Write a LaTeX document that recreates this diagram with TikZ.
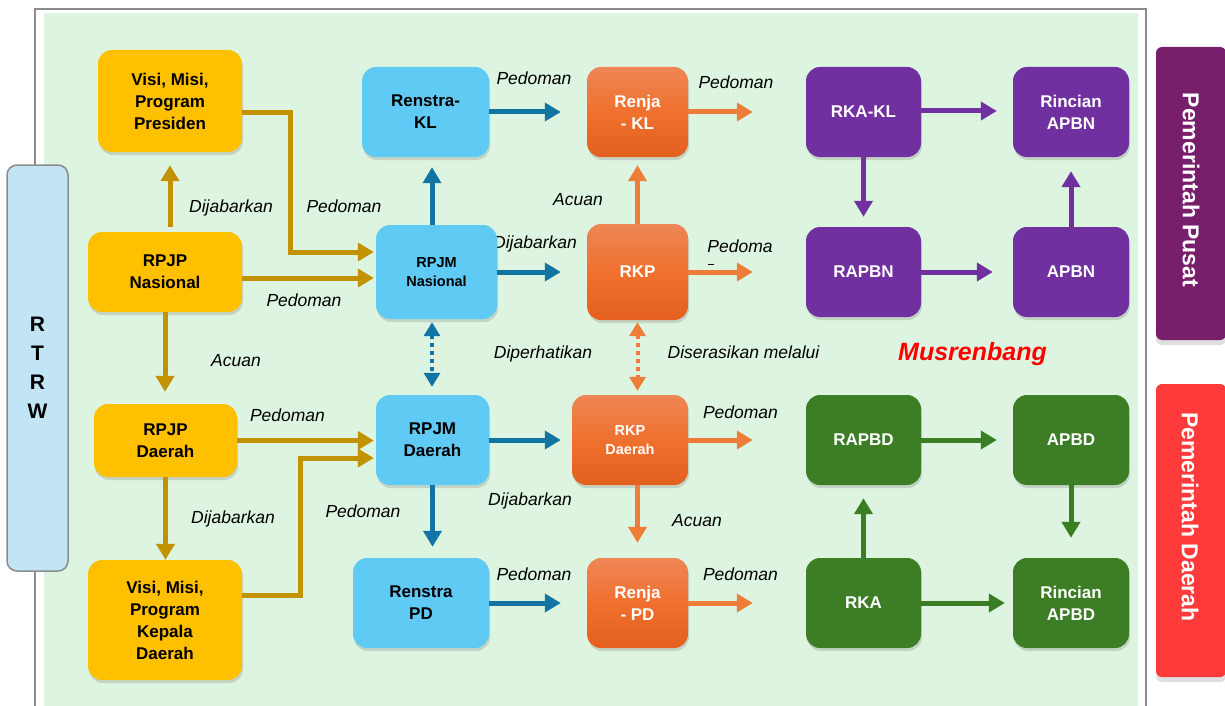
\documentclass[tikz,border=0pt]{standalone}
\usepackage{fontspec}
\setmainfont{Liberation Sans}
\usetikzlibrary{arrows.meta,shadows,calc}
\definecolor{bggreen}{HTML}{DDF5E0}
\definecolor{cgold}{HTML}{FFC000}
\definecolor{cgoldarr}{HTML}{C29200}
\definecolor{cblue}{HTML}{5FCAF3}
\definecolor{cbluearr}{HTML}{1174A3}
\definecolor{corTop}{HTML}{EE8656}
\definecolor{corMid}{HTML}{F0702E}
\definecolor{corBot}{HTML}{E3601E}
\definecolor{corarr}{HTML}{EE7D3A}
\definecolor{cpurple}{HTML}{7030A0}
\definecolor{cgreen}{HTML}{3D7D25}
\definecolor{cgreenarr}{HTML}{3B7D23}
\definecolor{cpusat}{HTML}{781F6C}
\definecolor{cdaerah}{HTML}{FF3A3A}
\definecolor{crtrw}{HTML}{C2E5F5}
\definecolor{cmus}{HTML}{FF0000}
\definecolor{cframe}{HTML}{8C8C8C}
\begin{document}
\begin{tikzpicture}[x=1pt,y=-1pt,
  box/.style={rounded corners=14pt, align=center, inner sep=0pt,
    font=\bfseries\fontsize{17}{22}\selectfont,
    drop shadow={shadow xshift=1pt, shadow yshift=-3pt, opacity=0.28}},
  smallfont/.style={font=\bfseries\fontsize{14.5}{19}\selectfont},
  goldbox/.style={box, fill=cgold, text=black},
  bluebox/.style={box, fill=cblue, text=black},
  orbox/.style={box, top color=corTop, bottom color=corBot, middle color=corMid, text=white},
  purbox/.style={box, fill=cpurple, text=white},
  grnbox/.style={box, fill=cgreen, text=white},
  lab/.style={font=\itshape\fontsize{17.5}{20}\selectfont, anchor=base, inner sep=0pt},
  arr/.style={line width=5pt, -{Triangle[width=18pt,length=16pt]}},
  dotarr/.style={line width=4pt, dash pattern=on 4pt off 4pt,
    {Triangle[width=16pt,length=14pt]}-{Triangle[width=16pt,length=14pt]}},
  side/.style={rounded corners=6pt, inner sep=0pt, minimum width=70pt, minimum height=293pt,
    drop shadow={shadow xshift=0pt, shadow yshift=-5pt, opacity=0.25}},
  sidetext/.style={rotate=-90, text=white, font=\bfseries\fontsize{23}{26}\selectfont}
]
\useasboundingbox (0,0) rectangle (1225,706);
% background
\fill[white] (0,0) rectangle (1225,706);
\fill[bggreen] (44,13) rectangle (1138,706);
\draw[cframe, line width=2pt] (35,710) -- (35,9) -- (1146,9) -- (1146,710);

% RTRW
\node[draw=cframe, line width=1.5pt, fill=crtrw, rounded corners=10pt, minimum width=61pt,
  minimum height=406pt, inner sep=0pt, align=center,
  font=\bfseries\fontsize{21}{29}\selectfont] (rtrw) at (37.5,368) {R\\T\\R\\W};

% side bars
\node[side, fill=cpusat] (pusat) at (1191,193.5) {};
\node[sidetext] (pusatt) at (1191,190) {Pemerintah Pusat};
\node[side, fill=cdaerah] (daerah) at (1191,530.5) {};
\node[sidetext] (daeraht) at (1190,517) {Pemerintah Daerah};

% labels (under nodes)
\node[lab] (l1) at (231,212) {Dijabarkan};
\node[lab] (l2) at (344,212) {Pedoman};
\node[lab] (l3) at (304,306) {Pedoman};
\node[lab] (l4) at (236,366) {Acuan};
\node[lab] (l5) at (287.5,421) {Pedoman};
\node[lab] (l6) at (233,523) {Dijabarkan};
\node[lab] (l7) at (363,517) {Pedoman};
\node[lab] (l8) at (534,85) {Pedoman};
\node[lab] (l9) at (736,89) {Pedoman};
\node[lab] (l10) at (578,205) {Acuan};
\node[lab] (l11) at (535,248) {Dijabarkan};
\node[lab] (l12) at (740,252) {Pedoma};
\draw[line width=1pt] (708,264) -- (714,264);
\node[lab] (l13) at (543,358) {Diperhatikan};
\node[lab] (l14) at (743.5,358) {Diserasikan melalui};
\node[lab] (l15) at (740.5,418) {Pedoman};
\node[lab] (l16) at (530,505) {Dijabarkan};
\node[lab] (l17) at (697,526) {Acuan};
\node[lab] (l18) at (534,580) {Pedoman};
\node[lab] (l19) at (740.5,580) {Pedoman};
\node[anchor=base, inner sep=0pt, text=cmus, font=\bfseries\itshape\fontsize{25}{28}\selectfont] (mus) at (972.5,360) {Musrenbang};

% nodes
\node[goldbox, minimum width=144pt, minimum height=102pt] (vmp) at (170,101) {Visi, Misi,\\Program\\Presiden};
\node[goldbox, minimum width=154pt, minimum height=80pt] (rpjpn) at (165,272) {RPJP\\Nasional};
\node[goldbox, minimum width=143pt, minimum height=73pt] (rpjpd) at (165.5,440.5) {RPJP\\Daerah};
\node[goldbox, minimum width=154pt, minimum height=120pt] (vmk) at (165,620) {Visi, Misi,\\Program\\Kepala\\Daerah};

\node[bluebox, minimum width=127pt, minimum height=90pt] (renstrakl) at (425.5,112) {Renstra-\\KL};
\node[bluebox, smallfont, minimum width=121pt, minimum height=94pt] (rpjmn) at (436.5,272) {RPJM\\Nasional};
\node[bluebox, minimum width=113pt, minimum height=90pt] (rpjmd) at (432.5,440) {RPJM\\Daerah};
\node[bluebox, minimum width=136pt, minimum height=90pt] (renstrapd) at (421,603) {Renstra\\PD};

\node[orbox, minimum width=101pt, minimum height=90pt] (renjakl) at (637.5,112) {Renja\\- KL};
\node[orbox, minimum width=101pt, minimum height=96pt] (rkp) at (637.5,272) {RKP};
\node[orbox, smallfont, minimum width=116pt, minimum height=90pt] (rkpd) at (630,440) {RKP\\Daerah};
\node[orbox, minimum width=101pt, minimum height=90pt] (renjapd) at (637.5,603) {Renja\\- PD};

\node[purbox, minimum width=115pt, minimum height=90pt] (rkakl) at (863.5,112) {RKA-KL};
\node[purbox, minimum width=116pt, minimum height=90pt] (rapbnr) at (1071,112) {Rincian\\APBN};
\node[purbox, minimum width=115pt, minimum height=90pt] (rapbn) at (863.5,272) {RAPBN};
\node[purbox, minimum width=116pt, minimum height=90pt] (apbn) at (1071,272) {APBN};

\node[grnbox, minimum width=115pt, minimum height=90pt] (rapbd) at (863.5,440) {RAPBD};
\node[grnbox, minimum width=116pt, minimum height=90pt] (apbd) at (1071,440) {APBD};
\node[grnbox, minimum width=115pt, minimum height=90pt] (rka) at (863.5,603) {RKA};
\node[grnbox, minimum width=116pt, minimum height=90pt] (rapbdr) at (1071,603) {Rincian\\APBD};

% gold arrows
\draw[arr, cgoldarr, shorten <=5pt, shorten >=13pt] (vmp.south |- rpjpn.north) -- (vmp.south);
\draw[arr, cgoldarr, shorten >=2pt] ([yshift=-12pt]vmp.east) -- ++(48,0) |- ([yshift=20pt]rpjmn.west);
\draw[arr, cgoldarr, shorten >=2pt] ([yshift=-6pt]rpjpn.east) -- ([yshift=-6pt]rpjmn.west);
\draw[arr, cgoldarr, shorten >=12pt] (rpjpn.south) -- (rpjpn.south |- rpjpd.north);
\draw[arr, cgoldarr, shorten >=2pt] (rpjpd.east) -- (rpjpd.east -| rpjmd.west);
\draw[arr, cgoldarr] (rpjpd.south) -- (rpjpd.south |- vmk.north);
\draw[arr, cgoldarr, shorten >=2pt] ([yshift=25pt]vmk.east) -- ++(58,0) |- ([yshift=-18pt]rpjmd.west);

% blue arrows
\draw[arr, cbluearr, shorten >=10pt] ([xshift=-4.5pt]rpjmn.north) -- ([xshift=-4.5pt]rpjmn.north |- renstrakl.south);
\draw[arr, cbluearr, shorten >=26pt] (renstrakl.east) -- (renjakl.west);
\draw[arr, cbluearr, shorten >=26pt] (rpjmn.east) -- (rkp.west);
\draw[dotarr, cbluearr, shorten <=3pt, shorten >=8pt] ([xshift=-4.5pt]rpjmn.south) -- ([xshift=-4.5pt]rpjmn.south |- rpjmd.north);
\draw[arr, cbluearr, shorten >=11pt] (rpjmd.east) -- (rkpd.west);
\draw[arr, cbluearr, shorten >=11pt] (rpjmd.south) -- (rpjmd.south |- renstrapd.north);
\draw[arr, cbluearr, shorten >=26pt] (renstrapd.east) -- (renjapd.west);

% orange arrows
\draw[arr, corarr, shorten >=8pt] (rkp.north) -- (renjakl.south);
\draw[arr, corarr, shorten >=53pt] (renjakl.east) -- (rkakl.west);
\draw[arr, corarr, shorten >=53pt] (rkp.east) -- (rapbn.west);
\draw[dotarr, corarr, shorten <=2pt, shorten >=4pt] (rkp.south) -- (rkp.south |- rkpd.north);
\draw[arr, corarr, shorten >=53pt] (rkpd.east) -- (rapbd.west);
\draw[arr, corarr, shorten >=15pt] (rkpd.south -| renjapd.north) -- (renjapd.north);
\draw[arr, corarr, shorten >=53pt] (renjapd.east) -- (rka.west);

% purple arrows
\draw[arr, cpurple, shorten >=16pt] ([yshift=1pt]rkakl.east) -- ([yshift=1pt]rapbnr.west);
\draw[arr, cpurple, shorten >=10pt] (rkakl.south) -- (rapbn.north);
\draw[arr, cpurple, shorten >=20pt] (rapbn.east) -- (apbn.west);
\draw[arr, cpurple, shorten >=14pt] (apbn.north) -- (rapbnr.south);

% green arrows
\draw[arr, cgreenarr, shorten >=16pt] (rapbd.east) -- (apbd.west);
\draw[arr, cgreenarr, shorten >=20pt] (apbd.south) -- (rapbdr.north);
\draw[arr, cgreenarr, shorten >=13pt] (rka.north) -- (rapbd.south);
\draw[arr, cgreenarr, shorten >=8pt] (rka.east) -- (rapbdr.west);
\end{tikzpicture}
\end{document}
